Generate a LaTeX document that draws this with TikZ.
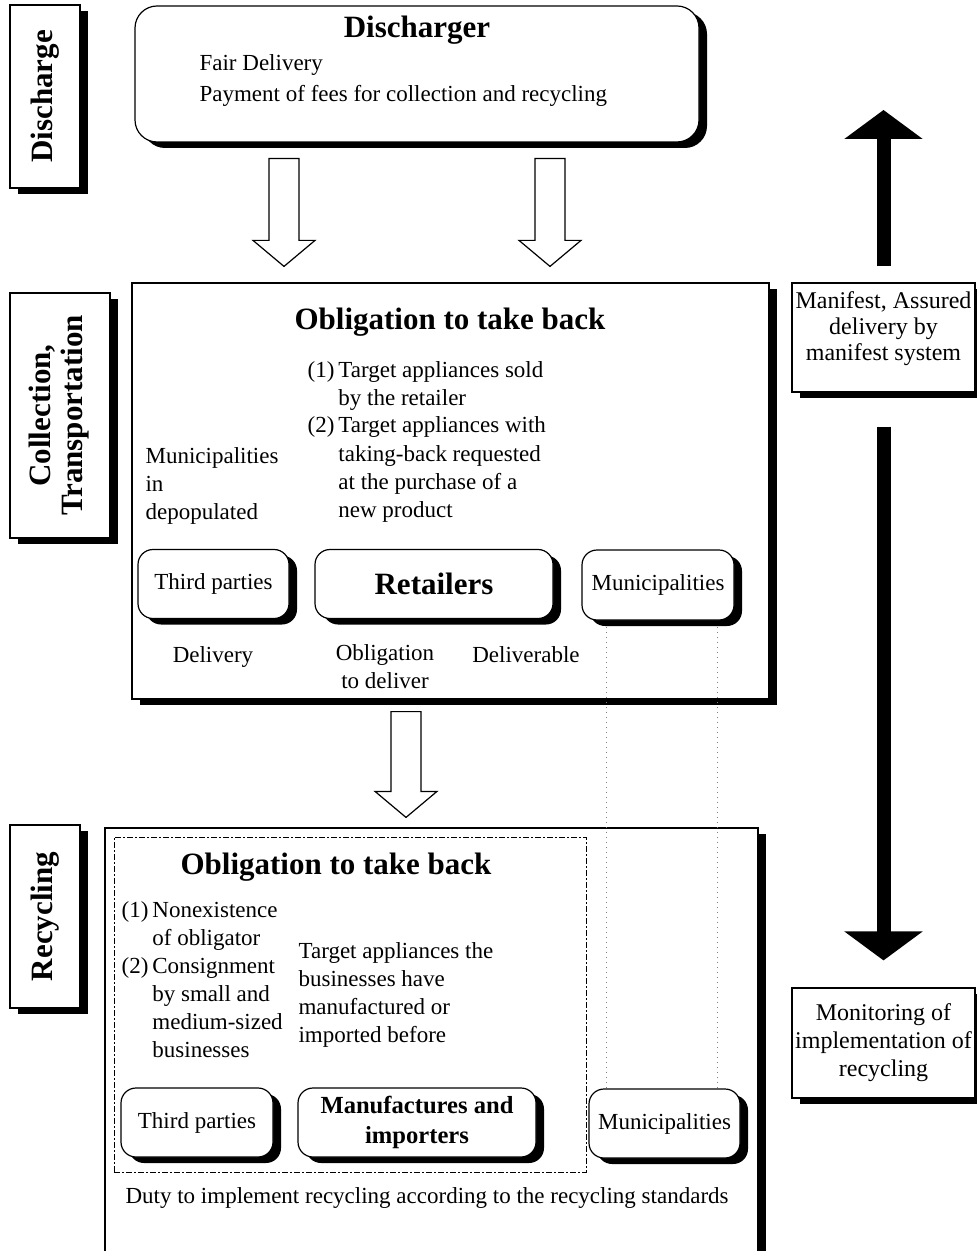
\documentclass[tikz,border=0pt]{standalone}
\usepackage{fontspec}
\setmainfont{Liberation Serif}
\usetikzlibrary{calc,shadows,arrows.meta}
\tikzset{shbox/.style={draw,fill=white,drop shadow={shadow xshift=4pt,shadow yshift=-3pt,opacity=1,fill=black}},
sidebox/.style={shbox,minimum width=35pt,font=\fontsize{15.5}{16}\selectfont\bfseries},
actor/.style={shbox,rounded corners=7.5pt,minimum width=76pt,minimum height=34.5pt,font=\fontsize{11.5}{14}\selectfont},
body/.style={font=\fontsize{11.5}{14}\selectfont},
heading/.style={font=\fontsize{15.5}{18}\selectfont\bfseries},
hollow/.style={draw,fill=white,line join=miter},
bigarrow/.style={line width=7pt,-{Triangle[width=38.5pt,length=14.5pt]}},
guide/.style={draw=gray,line width=0.5pt,dotted}}
\begin{document}
\begin{tikzpicture}[x=0.5pt,y=-0.5pt,inner sep=0pt,line width=0.6pt]
\path[use as bounding box,clip] (0,0) rectangle (977,1251);
% stage labels
\node[sidebox,minimum height=91.5pt] (dlab) at (45,96.5) {\rotatebox{90}{Discharge}};
\node[sidebox,minimum width=50pt,minimum height=122.5pt] (clab) at (60,415.5) {\rotatebox{90}{\begin{tabular}{@{}c@{}}Collection,\\Transportation\end{tabular}}};
\node[sidebox,minimum height=91.5pt] (rlab) at (45,916.5) {\rotatebox{90}{Recycling}};
% discharger
\node[shbox,rounded corners=11pt,minimum width=282pt,minimum height=68pt] (dis) at (417,74) {};
\node[heading,anchor=base] (distitle) at (417,38) {Discharger};
\node[body,anchor=base west] (fair) at (199,71) {Fair Delivery};
\node[body,anchor=base west] (fees) at (199,102) {Payment of fees for collection and recycling};
% big regions
\node[shbox,minimum width=318.5pt,minimum height=208pt] (col) at (450.5,491) {};
\node[shbox,minimum width=326.5pt,minimum height=231pt] (rec) at (431.5,1059) {};
\node[draw,line width=0.5pt,dash pattern=on 3pt off 1pt on 1pt off 1pt,minimum width=236pt,minimum height=167.5pt] (grp) at (350,1004.5) {};
% collection, transportation
\node[heading,anchor=base] (coltitle) at (450,329) {Obligation to take back};
\node[body,anchor=base west] (collist) at (307,377) {\begin{tabular}[t]{@{}l@{\hspace{2pt}}l@{}}(1)&Target appliances sold\\&by the retailer\\(2)&Target appliances with\\&taking-back requested\\&at the purchase of a\\&new product\end{tabular}};
\node[body,anchor=base west] (depop) at (145,463) {\begin{tabular}[t]{@{}l@{}}Municipalities\\in\\depopulated\end{tabular}};
\node[body,anchor=base] (dlv) at (213,662) {Delivery};
\node[body,anchor=base] (obdlv) at (385,660) {\begin{tabular}[t]{@{}c@{}}Obligation\\to deliver\end{tabular}};
\node[body,anchor=base] (dlvb) at (526,662) {Deliverable};
% recycling
\node[heading,anchor=base] (rectitle) at (336,874) {Obligation to take back};
\node[body,anchor=base west] (reclist) at (121,917) {\begin{tabular}[t]{@{}l@{\hspace{2pt}}l@{}}(1)&Nonexistence\\&of obligator\\(2)&Consignment\\&by small and\\&medium-sized\\&businesses\end{tabular}};
\node[body,anchor=base west] (target) at (298,958) {\begin{tabular}[t]{@{}l@{}}Target appliances the\\businesses have\\manufactured or\\imported before\end{tabular}};
\node[body,anchor=base west] (duty) at (125,1203) {Duty to implement recycling according to the recycling standards};
% dotted links between municipalities
\draw[guide] (606,622) coordinate (g1) -- (606,1089) coordinate (g2);
\draw[guide] (717,622) coordinate (g3) -- (717,1089) coordinate (g4);
% actors
\node[actor,minimum width=75.5pt] (tp1) at (213.5,584) {Third parties};
\node[actor,minimum width=119pt,font=\fontsize{15.5}{18}\selectfont\bfseries] (ret) at (434,584) {Retailers};
\node[actor,minimum height=35pt] (mun1) at (658,585) {Municipalities};
\node[actor] (tp2) at (197,1122.5) {Third parties};
\node[actor,minimum width=119pt,align=center,font=\fontsize{12.3}{15}\selectfont\bfseries] (mfr) at (417,1122.5) {Manufactures and\\importers};
\node[actor,minimum width=75.5pt] (mun2) at (664.5,1123.5) {Municipalities};
% hollow flow arrows
\coordinate (h1) at ($(dis.south)+(-133,16)$);
\coordinate (t1) at ($(col.north)+(-166.5,-16)$);
\coordinate (h2) at ($(dis.south)+(133,16)$);
\coordinate (t2) at ($(col.north)+(99.5,-16)$);
\coordinate (h3) at ($(col.south)+(-44.5,12)$);
\coordinate (t3) at ($(rec.north)+(-25.5,-10)$);
\foreach \a/\b in {h1/t1,h2/t2,h3/t3}
  \draw[hollow] ($(\a)+(-15,0)$) -- ($(\a)+(15,0)$) -- ($(\b)+(15,-26)$) -- ($(\b)+(31,-26)$) -- (\b) -- ($(\b)+(-31,-26)$) -- ($(\b)+(-15,-26)$) -- cycle;
% manifest and monitoring
\node[shbox,minimum width=91.5pt,minimum height=54.5pt] (mfst) at (883.5,337.5) {};
\node[align=center,font=\fontsize{12}{13}\selectfont] (mfsttext) at (883.5,329) {Manifest, Assured\\delivery by\\manifest system};
\node[shbox,minimum width=91.5pt,minimum height=55pt,align=center,font=\fontsize{12}{14}\selectfont] (mon) at (883.5,1043) {Monitoring of\\implementation of\\recycling};
\coordinate (up) at (883.5,110);
\draw[bigarrow] ($(mfst.north)+(0,-16)$) -- (up);
\draw[bigarrow] ($(mfst.south)+(0,34)$) -- ($(mon.north)+(0,-27)$);
\end{tikzpicture}
\end{document}
